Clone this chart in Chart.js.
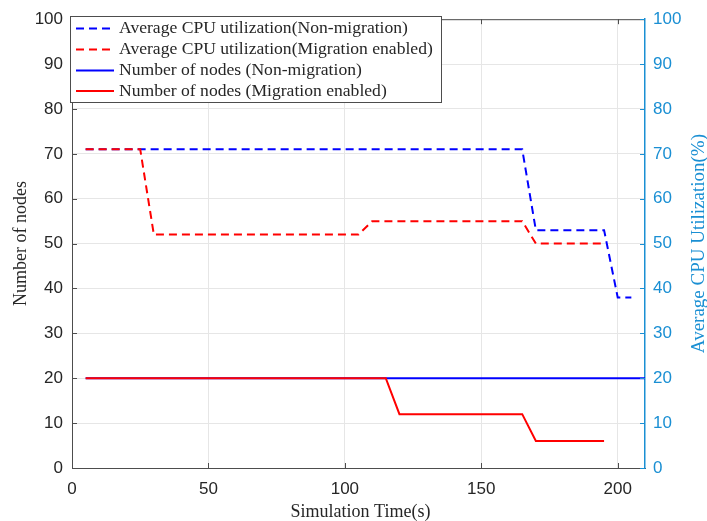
<!DOCTYPE html>
<html>
<head>
<meta charset="utf-8">
<script src="https://cdn.jsdelivr.net/npm/chart.js@4.4.0/dist/chart.umd.min.js"></script>
<style>
  html, body { margin: 0; padding: 0; background: #fff; }
  #wrap { width: 707px; height: 521px; }
</style>
</head>
<body>
<div id="wrap"><canvas id="myChart" width="707" height="521"></canvas></div>
<script>
// time points (s) and values for each series
const cpuNonMigTime = [5, 165, 170, 195, 200, 205]
const cpuNonMigValues = [71, 71, 53, 53, 38, 38]
const cpuMigTime = [5, 25, 30, 105, 110, 165, 170, 195]
const cpuMigValues = [71, 71, 52, 52, 55, 55, 50, 50]
const nodesNonMigTime = [5, 210]
const nodesNonMigValues = [20, 20]
const nodesMigTime = [5, 115, 120, 165, 170, 195]
const nodesMigValues = [20, 20, 12, 12, 6, 6]

const xTicks = [0, 50, 100, 150, 200]
const yTicks = [0, 10, 20, 30, 40, 50, 60, 70, 80, 90, 100]

const labels = [
  'Average CPU utilization(Non-migration)',
  'Average CPU utilization(Migration enabled)',
  'Number of nodes (Non-migration)',
  'Number of nodes (Migration enabled)',
]

const BLUE = '#0000ff'
const RED = '#ff0000'
const AXIS_BLUE = '#1a8fd3'
const AXIS_GREY = '#4d4d4d'
const TEXT = '#262626'
const SANS = "'Liberation Sans', Arial, sans-serif"
const SERIF = "'Liberation Serif', 'Times New Roman', serif"
const DASH = [8, 5]

const toPoints = (xs, ys) => xs.map((x, i) => ({ x, y: ys[i] }))

const data = {
  datasets: [
    {
      label: labels[0],
      data: toPoints(cpuNonMigTime, cpuNonMigValues),
      borderColor: BLUE,
      borderDash: DASH,
      yAxisID: 'y1',
      order: 2,
    },
    {
      label: labels[1],
      data: toPoints(cpuMigTime, cpuMigValues),
      borderColor: RED,
      borderDash: DASH,
      yAxisID: 'y1',
      order: 0,
    },
    {
      label: labels[2],
      data: toPoints(nodesNonMigTime, nodesNonMigValues),
      borderColor: BLUE,
      yAxisID: 'y',
      order: 3,
    },
    {
      label: labels[3],
      data: toPoints(nodesMigTime, nodesMigValues),
      borderColor: RED,
      yAxisID: 'y',
      order: 1,
    },
  ],
}

// axes box, inward ticks, titles and the legend drawn MATLAB style
const matlabDecor = {
  id: 'matlabDecor',
  afterDatasetsDraw(chart) {
    const { ctx, chartArea: { left, right, top, bottom } } = chart
    const { x, y, y1 } = chart.scales
    ctx.save()

    // top edge
    ctx.strokeStyle = AXIS_GREY
    ctx.lineWidth = 1
    ctx.beginPath()
    ctx.moveTo(left, top + 0.5)
    ctx.lineTo(right, top + 0.5)
    ctx.stroke()

    // inward ticks
    ctx.beginPath()
    xTicks.forEach((t) => {
      const px = Math.round(x.getPixelForValue(t)) + 0.5
      ctx.moveTo(px, bottom)
      ctx.lineTo(px, bottom - 5)
      ctx.moveTo(px, top)
      ctx.lineTo(px, top + 5)
    })
    yTicks.forEach((t) => {
      const py = Math.round(y.getPixelForValue(t)) + 0.5
      ctx.moveTo(left, py)
      ctx.lineTo(left + 5, py)
    })
    ctx.stroke()
    ctx.strokeStyle = AXIS_BLUE
    ctx.beginPath()
    yTicks.forEach((t) => {
      const py = Math.round(y1.getPixelForValue(t)) + 0.5
      ctx.moveTo(right, py)
      ctx.lineTo(right - 5, py)
    })
    ctx.stroke()

    // axis titles
    ctx.fillStyle = TEXT
    ctx.font = `18px ${SERIF}`
    ctx.textAlign = 'center'
    ctx.textBaseline = 'middle'
    ctx.fillText('Simulation Time(s)', (left + right) / 2 + 2, 512)
    const midY = (top + bottom) / 2
    ctx.save()
    ctx.translate(21, midY)
    ctx.rotate(-Math.PI / 2)
    ctx.fillText('Number of nodes', 0, 0)
    ctx.restore()
    ctx.save()
    ctx.translate(699, midY)
    ctx.rotate(-Math.PI / 2)
    ctx.fillStyle = AXIS_BLUE
    ctx.font = `19px ${SERIF}`
    ctx.fillText('Average CPU Utilization(%)', 0, 0)
    ctx.restore()

    // legend
    const lx = 70
    const ly = 16
    const lw = 371
    const lh = 86
    ctx.fillStyle = '#fff'
    ctx.fillRect(lx, ly, lw, lh)
    ctx.strokeStyle = AXIS_GREY
    ctx.strokeRect(lx + 0.5, ly + 0.5, lw, lh)
    const rows = [28.5, 49.5, 70.5, 91]
    chart.data.datasets.forEach((ds, i) => {
      ctx.strokeStyle = ds.borderColor
      ctx.lineWidth = 2
      ctx.setLineDash(ds.borderDash || [])
      ctx.beginPath()
      ctx.moveTo(76, rows[i])
      ctx.lineTo(114, rows[i])
      ctx.stroke()
      ctx.setLineDash([])
      ctx.fillStyle = TEXT
      ctx.font = `17.6px ${SERIF}`
      ctx.textAlign = 'left'
      ctx.fillText(ds.label, 119, rows[i])
    })
    ctx.restore()
  },
}

const ctx = document.getElementById('myChart').getContext('2d')
const myChart = new Chart(ctx, {
  type: 'line',
  data,
  plugins: [matlabDecor],
  options: {
    responsive: false,
    animation: false,
    layout: { padding: { top: 16, left: 0, right: 0, bottom: 0 } },
    elements: {
      point: { radius: 0 },
      line: { borderWidth: 2, tension: 0, fill: false },
    },
    plugins: {
      legend: { display: false },
      tooltip: { enabled: false },
    },
    scales: {
      x: {
        type: 'linear',
        min: 0,
        max: 210,
        afterFit: (s) => { s.height = 53 },
        afterBuildTicks: (s) => { s.ticks = xTicks.map((v) => ({ value: v })) },
        grid: { color: '#e6e6e6', drawTicks: false },
        border: { color: AXIS_GREY, width: 1 },
        ticks: { color: TEXT, font: { family: SANS, size: 17 }, padding: 11 },
      },
      y: {
        position: 'left',
        min: 0,
        max: 100,
        afterFit: (s) => { s.width = 72 },
        afterBuildTicks: (s) => { s.ticks = yTicks.map((v) => ({ value: v })) },
        grid: { color: '#e6e6e6', drawTicks: false },
        border: { color: AXIS_GREY, width: 1 },
        ticks: { color: TEXT, font: { family: SANS, size: 17 }, padding: 9 },
      },
      y1: {
        position: 'right',
        min: 0,
        max: 100,
        afterFit: (s) => { s.width = 62 },
        afterBuildTicks: (s) => { s.ticks = yTicks.map((v) => ({ value: v })) },
        grid: { drawOnChartArea: false, drawTicks: false },
        border: { color: AXIS_BLUE, width: 1.5 },
        ticks: { color: AXIS_BLUE, font: { family: SANS, size: 17 }, padding: 8 },
      },
    },
  },
})
</script>
</body>
</html>
